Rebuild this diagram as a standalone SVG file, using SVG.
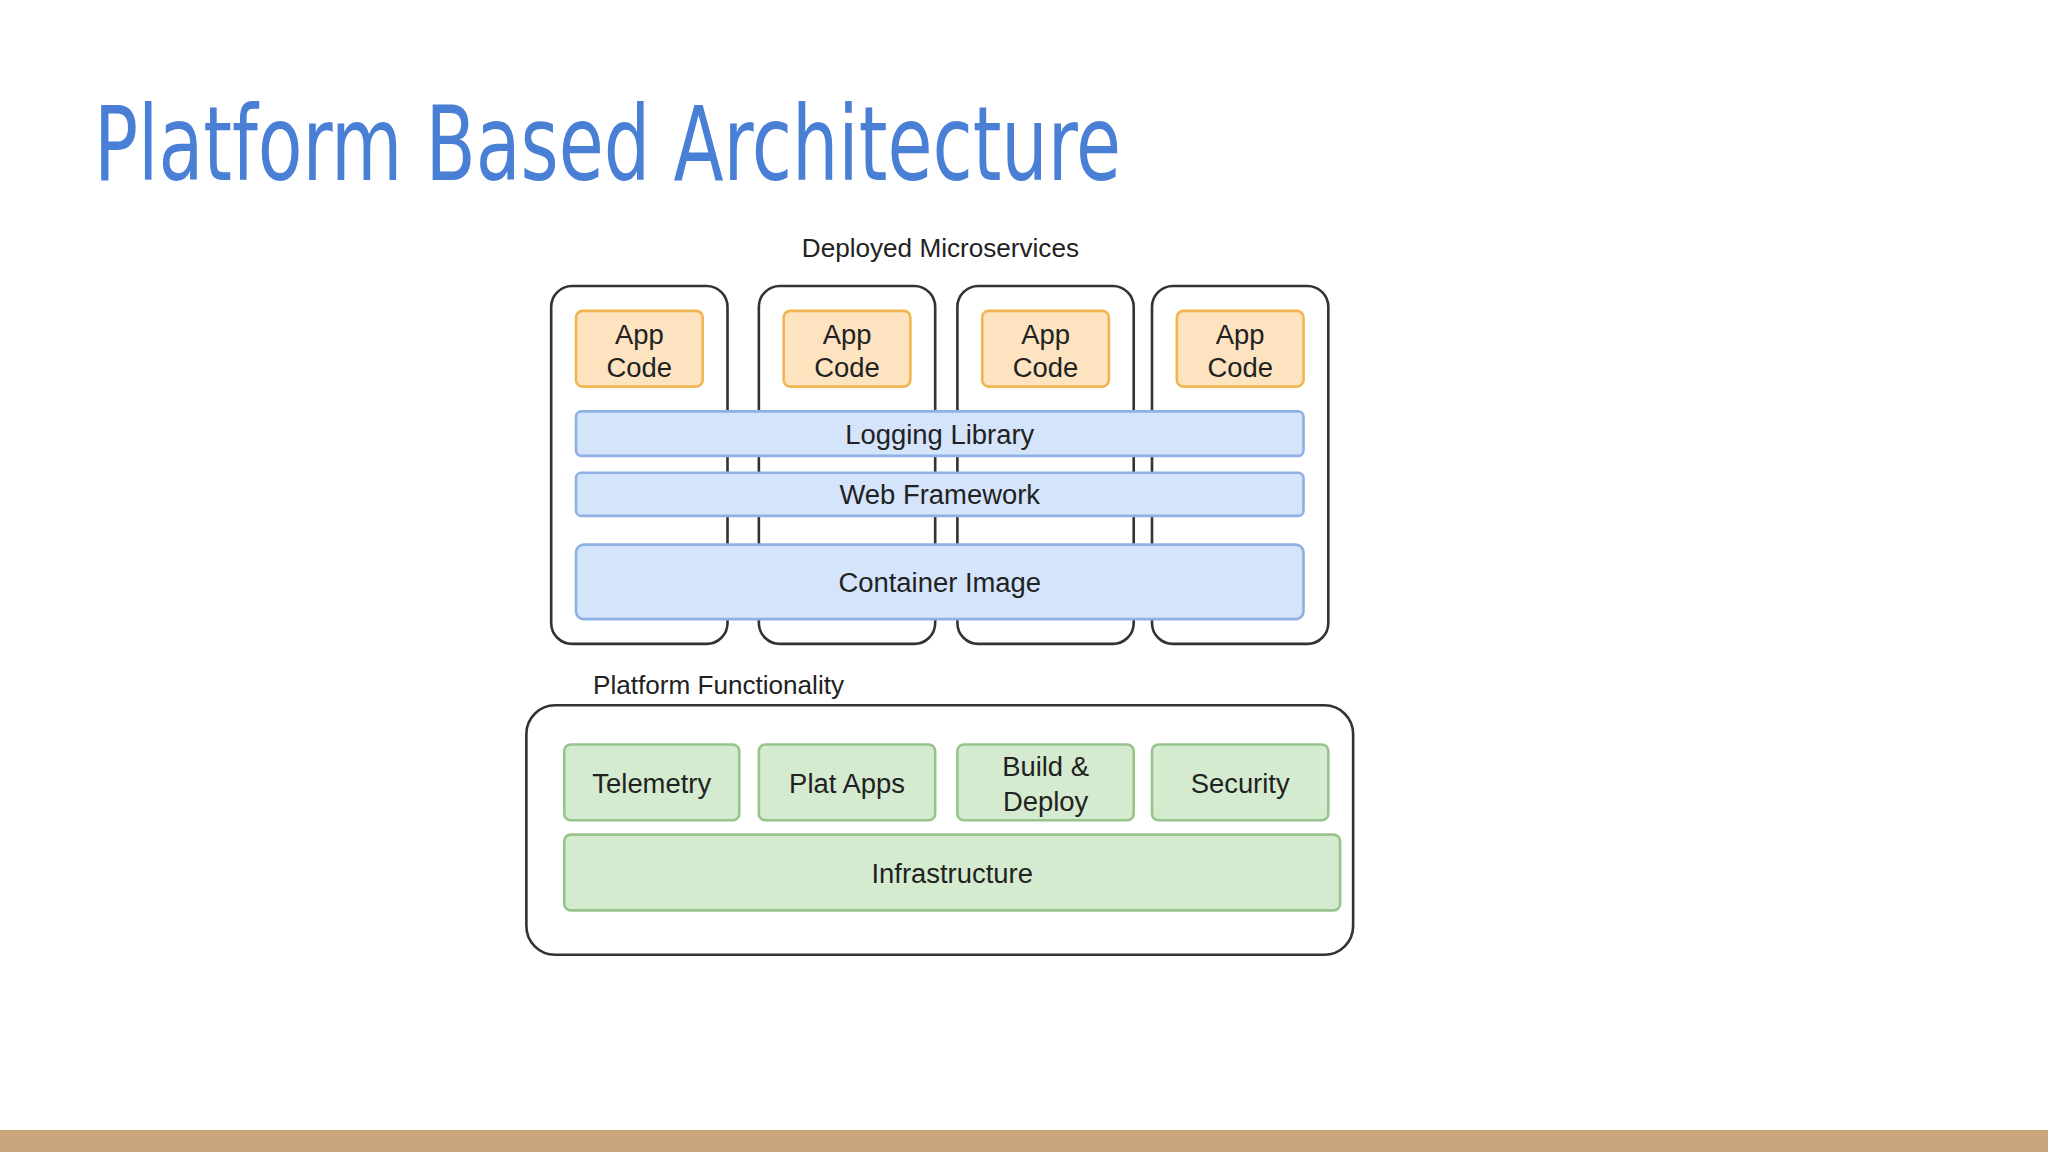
<svg xmlns="http://www.w3.org/2000/svg" width="2048" height="1152" viewBox="0 0 2048 1152">
<style>
.t{font-family:"Liberation Sans",Arial,sans-serif;fill:#222;text-anchor:middle}
.svc{fill:#fff;stroke:#333;stroke-width:2}
.app{fill:#fde3bf;stroke:#f2b551;stroke-width:2}
.blue{fill:#d4e4fa;stroke:#8eb0e3;stroke-width:2}
.green{fill:#d5ebd0;stroke:#98c48c;stroke-width:2}
</style>
<rect width="2048" height="1152" fill="#fff"/>
<rect x="0" y="1130" width="2048" height="22" fill="#c9a57b"/>
<text x="94" y="180" font-family="'DejaVu Sans Condensed','Liberation Sans',sans-serif" font-size="104" fill="#4a7fd6" textLength="1027" lengthAdjust="spacingAndGlyphs">Platform Based Architecture</text>
<g transform="scale(1.30612)">
<text class="t" x="720" y="197" font-size="20">Deployed Microservices</text>
<g id="svc1"><rect class="svc" x="422" y="219" width="135" height="274" rx="16"/></g>
<g id="svc2"><rect class="svc" x="581" y="219" width="135" height="274" rx="16"/></g>
<g id="svc3"><rect class="svc" x="733" y="219" width="135" height="274" rx="16"/></g>
<g id="svc4"><rect class="svc" x="882" y="219" width="135" height="274" rx="16"/></g>
<g id="app1"><rect class="app" x="441" y="238" width="97" height="58" rx="5"/><text class="t" x="489.5" y="263" font-size="21">App</text><text class="t" x="489.5" y="289" font-size="21">Code</text></g>
<g id="app2"><rect class="app" x="600" y="238" width="97" height="58" rx="5"/><text class="t" x="648.5" y="263" font-size="21">App</text><text class="t" x="648.5" y="289" font-size="21">Code</text></g>
<g id="app3"><rect class="app" x="752" y="238" width="97" height="58" rx="5"/><text class="t" x="800.5" y="263" font-size="21">App</text><text class="t" x="800.5" y="289" font-size="21">Code</text></g>
<g id="app4"><rect class="app" x="901" y="238" width="97" height="58" rx="5"/><text class="t" x="949.5" y="263" font-size="21">App</text><text class="t" x="949.5" y="289" font-size="21">Code</text></g>
<g id="logging"><rect class="blue" x="441" y="315" width="557" height="34" rx="4"/><text class="t" x="719.5" y="340" font-size="21">Logging Library</text></g>
<g id="web"><rect class="blue" x="441" y="362" width="557" height="33" rx="4"/><text class="t" x="719.5" y="386" font-size="21">Web Framework</text></g>
<g id="container"><rect class="blue" x="441" y="417" width="557" height="57" rx="6"/><text class="t" x="719.5" y="453" font-size="21">Container Image</text></g>
<text x="454" y="531" font-size="20" font-family="'Liberation Sans',Arial,sans-serif" fill="#222">Platform Functionality</text>
<g id="platform"><rect class="svc" x="403" y="540" width="633" height="191" rx="22"/></g>
<g id="telemetry"><rect class="green" x="432" y="570" width="134" height="58" rx="5"/><text class="t" x="499" y="607" font-size="21">Telemetry</text></g>
<g id="platapps"><rect class="green" x="581" y="570" width="135" height="58" rx="5"/><text class="t" x="648.5" y="607" font-size="21">Plat Apps</text></g>
<g id="build"><rect class="green" x="733" y="570" width="135" height="58" rx="5"/><text class="t" x="800.5" y="594" font-size="21">Build &amp;</text><text class="t" x="800.5" y="621" font-size="21">Deploy</text></g>
<g id="security"><rect class="green" x="882" y="570" width="135" height="58" rx="5"/><text class="t" x="949.5" y="607" font-size="21">Security</text></g>
<g id="infra"><rect class="green" x="432" y="639" width="594" height="58" rx="5"/><text class="t" x="729" y="676" font-size="21">Infrastructure</text></g>
<g id="connectors"></g>
</g>
</svg>
